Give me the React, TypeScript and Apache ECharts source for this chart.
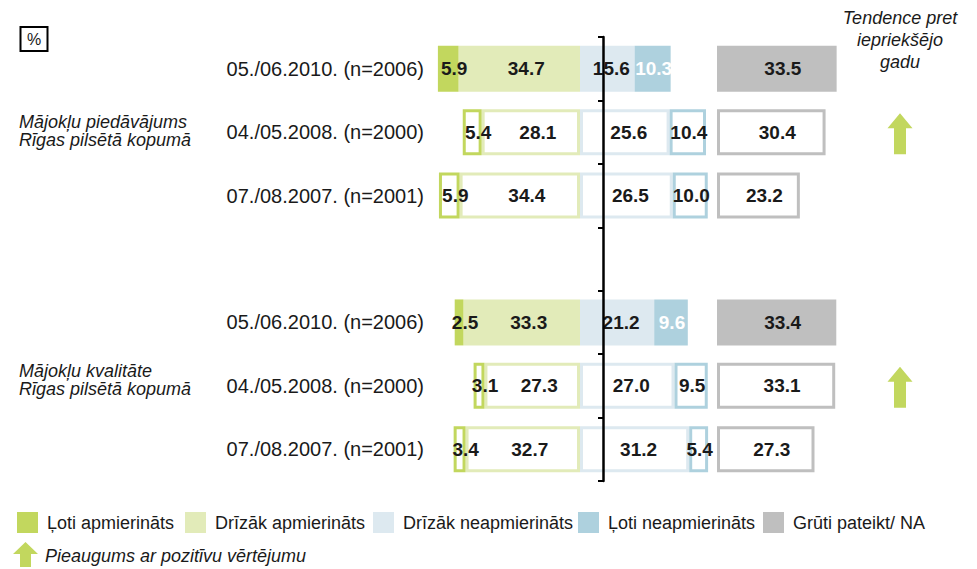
import React, { useEffect, useRef } from "react";
import * as echarts from "echarts";

// ---- data ----
const rowLabels = [
  "05./06.2010. (n=2006)",
  "04./05.2008. (n=2000)",
  "07./08.2007. (n=2001)",
  "",
  "05./06.2010. (n=2006)",
  "04./05.2008. (n=2000)",
  "07./08.2007. (n=2001)",
];
const veryS = [5.9, 5.4, 5.9, null, 2.5, 3.1, 3.4];
const ratherS = [34.7, 28.1, 34.4, null, 33.3, 27.3, 32.7];
const ratherD = [15.6, 25.6, 26.5, null, 21.2, 27.0, 31.2];
const veryD = [10.3, 10.4, 10.0, null, 9.6, 9.5, 5.4];
const hardNA = [33.5, 30.4, 23.2, null, 33.4, 33.1, 27.3];
const latestRow = [true, false, false, false, true, false, false];
const trendRows = [1, 5];

const seriesNames = [
  "Ļoti apmierināts",
  "Drīzāk apmierināts",
  "Drīzāk neapmierināts",
  "Ļoti neapmierināts",
  "Grūti pateikt/ NA",
];
const groupTitles = [
  "Mājokļu piedāvājums\nRīgas pilsētā kopumā",
  "Mājokļu kvalitāte\nRīgas pilsētā kopumā",
];
const trendTitle = "Tendence pret\niepriekšējo\ngadu";
const trendLegend = "Pieaugums ar pozitīvu vērtējumu";
const unitLabel = "%";

// ---- styles / layout ----
const FONT = "'Liberation Sans', Arial, sans-serif";
const colors = ["#c2d75e", "#e2ebb9", "#dde9f0", "#aed1de", "#bfbfbf"];
const ARROW = "#c2d75e";
const TEXT = "#1a1a1a";
const legendLeft = [17, 185, 373, 578, 763];

function makeData(values: (number | null)[], sign: number, color: string, filledLabelColor: string) {
  return values.map((v, i) => {
    if (v == null) return "-";
    const filled = latestRow[i];
    return {
      value: sign * v,
      itemStyle: filled
        ? { color }
        : { color: "#ffffff", borderColor: color, borderWidth: 3 },
      label: { color: filled ? filledLabelColor : TEXT },
    };
  });
}

function barSeries(name: string, values: (number | null)[], sign: number, color: string, filledLabelColor: string, offsetX: number, axis: number) {
  return {
    name,
    type: "bar",
    stack: axis === 0 ? "d" : undefined,
    xAxisIndex: axis,
    yAxisIndex: axis,
    barWidth: 46,
    itemStyle: { color },
    emphasis: { disabled: true },
    label: {
      show: true,
      position: "inside",
      offset: [offsetX, 0],
      formatter: (p: any) => Math.abs(p.value).toFixed(1),
      fontFamily: FONT,
      fontWeight: "bold",
      fontSize: 19,
      color: TEXT,
    },
    data: makeData(values, sign, color, filledLabelColor),
  };
}

export default function App() {
  const ref = useRef<HTMLDivElement>(null);
  useEffect(() => {
    if (!ref.current) return;
    const chart = echarts.init(ref.current, null, { renderer: "svg" });
    const keys = rowLabels.map((_, i) => String(i));
    const gridTop = 37;
    const gridH = 444;
    chart.setOption({
      animation: false,
      backgroundColor: "#ffffff",
      textStyle: { fontFamily: FONT },
      grid: [
        { left: 433, width: 280, top: gridTop, height: gridH },
        { left: 717, width: 125, top: gridTop, height: gridH },
        { left: 603, width: 10, top: gridTop, height: gridH },
      ],
      xAxis: [
        { gridIndex: 0, type: "value", min: -42, max: 38, show: false },
        { gridIndex: 1, type: "value", min: 0, max: 35, show: false },
        { gridIndex: 2, type: "value", min: 0, max: 1, show: false },
      ],
      yAxis: [
        {
          gridIndex: 0,
          type: "category",
          inverse: true,
          data: keys,
          axisLine: { show: false },
          axisTick: { show: false },
          splitLine: { show: false },
          axisLabel: {
            formatter: (_v: string, i: number) => rowLabels[i],
            fontFamily: FONT,
            fontSize: 20,
            color: TEXT,
            margin: 9,
          },
        },
        {
          gridIndex: 1,
          type: "category",
          inverse: true,
          data: keys,
          show: false,
        },
        {
          gridIndex: 2,
          type: "category",
          inverse: true,
          data: keys,
          z: 10,
          axisLine: { show: true, lineStyle: { color: "#000000", width: 2.5 } },
          axisTick: { show: true, length: 5, lineStyle: { color: "#000000", width: 2 } },
          axisLabel: { show: false },
          splitLine: { show: false },
        },
      ],
      legend: seriesNames.map((n, i) => ({
        data: [n],
        left: legendLeft[i],
        top: 512,
        padding: 0,
        itemWidth: 21,
        itemHeight: 21,
        icon: "rect",
        selectedMode: false,
        formatter: "{t|{name}}",
        textStyle: {
          fontFamily: FONT,
          fontSize: 18,
          color: TEXT,
          rich: { t: { fontFamily: FONT, fontSize: 18, color: TEXT, padding: [0, 0, 0, 4] } },
        },
      })),
      series: [
        barSeries(seriesNames[1], ratherS, -1, colors[1], TEXT, 7, 0),
        barSeries(seriesNames[0], veryS, -1, colors[0], TEXT, 6, 0),
        barSeries(seriesNames[2], ratherD, 1, colors[2], TEXT, 4, 0),
        barSeries(seriesNames[3], veryD, 1, colors[3], "#ffffff", 1, 0),
        barSeries(seriesNames[4], hardNA, 1, colors[4], TEXT, 6, 1),
      ],
    });

    const arrow = (cx: number, cy: number, hw: number, sw: number, top: number, neck: number, bottom: number) => ({
      type: "polygon",
      silent: true,
      shape: {
        points: [
          [cx, cy + top],
          [cx + hw, cy + neck],
          [cx + sw, cy + neck],
          [cx + sw, cy + bottom],
          [cx - sw, cy + bottom],
          [cx - sw, cy + neck],
          [cx - hw, cy + neck],
        ],
      },
      style: { fill: ARROW },
    });

    const graphics: any[] = [
      {
        type: "rect",
        shape: { x: 20.5, y: 27, width: 27, height: 24 },
        style: { fill: "none", stroke: "#000000", lineWidth: 2 },
      },
      {
        type: "text",
        x: 34,
        y: 39.5,
        style: { text: unitLabel, font: `16px ${FONT}`, fill: TEXT, textAlign: "center", textVerticalAlign: "middle" },
      },
      {
        type: "text",
        x: 900,
        y: 7,
        style: {
          text: trendTitle,
          font: `italic 18px ${FONT}`,
          lineHeight: 22,
          fill: TEXT,
          textAlign: "center",
          textVerticalAlign: "top",
        },
      },
      {
        type: "text",
        x: 19,
        y: 130.5,
        style: { text: groupTitles[0], font: `italic 18px ${FONT}`, lineHeight: 18, fill: TEXT, textAlign: "left", textVerticalAlign: "middle" },
      },
      {
        type: "text",
        x: 19,
        y: 380,
        style: { text: groupTitles[1], font: `italic 18px ${FONT}`, lineHeight: 18, fill: TEXT, textAlign: "left", textVerticalAlign: "middle" },
      },
      arrow(25.5, 554, 12.5, 5.5, -12, 0, 13),
      {
        type: "text",
        x: 45,
        y: 556,
        style: { text: trendLegend, font: `italic 18px ${FONT}`, fill: TEXT, textAlign: "left", textVerticalAlign: "middle" },
      },
    ];
    trendRows.forEach((r) => {
      const cy = chart.convertToPixel({ yAxisIndex: 1 }, r) as number;
      graphics.push(arrow(900, cy, 12.5, 6, -19, -4, 22));
    });
    chart.setOption({ graphic: graphics });

    return () => chart.dispose();
  }, []);
  return (
    <div
      ref={ref}
      style={{ position: "absolute", left: 0, top: 0, width: 977, height: 569 }}
    />
  );
}
